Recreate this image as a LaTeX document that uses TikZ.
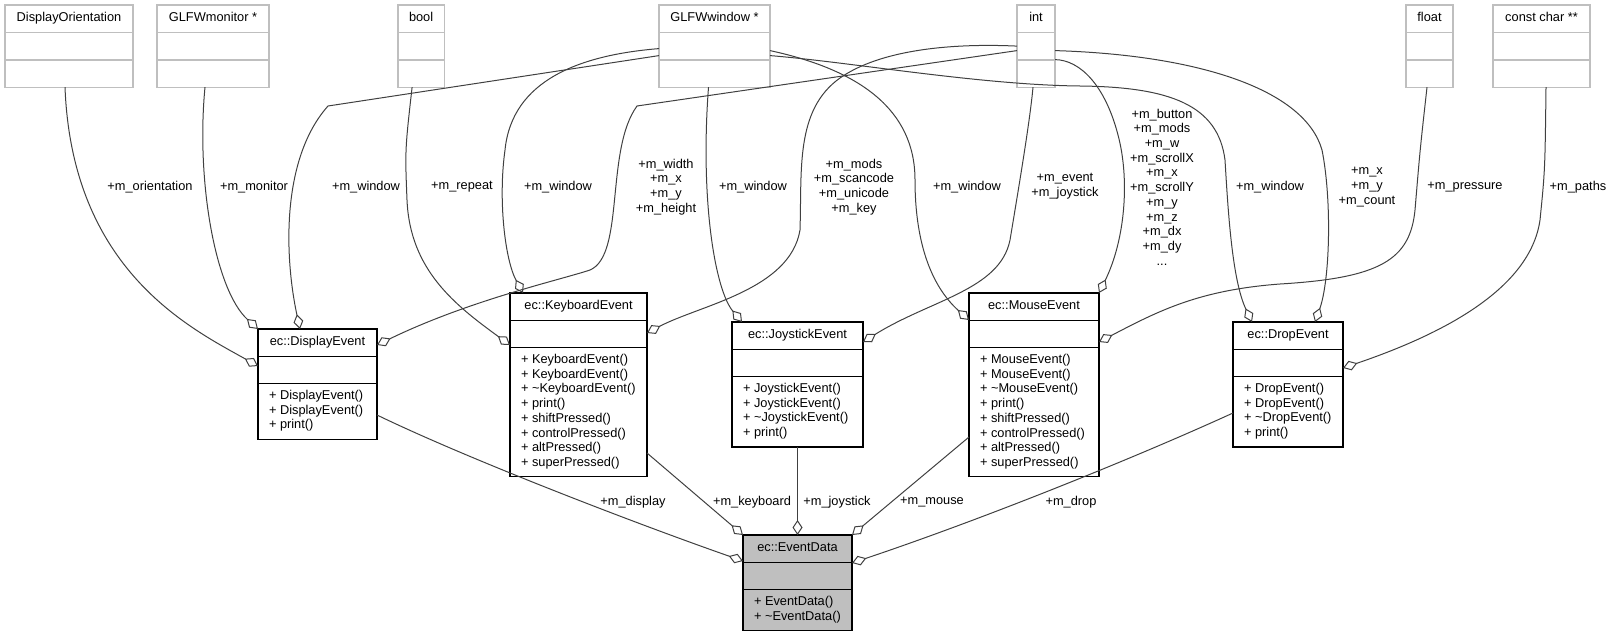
\documentclass[tikz,border=0pt]{standalone}
\usepackage{fontspec}
\setmainfont{Liberation Sans}
\usetikzlibrary{shapes.multipart,arrows.meta}

\definecolor{edgegray}{HTML}{404040}
\definecolor{typegray}{HTML}{BFBFBF}
\definecolor{datagray}{HTML}{BFBFBF}

\newcommand{\rowstrut}{\rule[-4.6pt]{0pt}{15.4pt}}
\newcommand{\opslist}[1]{\begin{tabular}{@{}l@{}}#1\end{tabular}}

\tikzset{
  umlbox/.style={rectangle split, rectangle split parts=3, draw, outer sep=0pt,
    inner xsep=11pt, inner ysep=5.3pt, anchor=north west,
    rectangle split part align={center,left,left}},
  classbox/.style={umlbox, draw=black, line width=1.2pt},
  typebox/.style={umlbox, draw=typegray, line width=1.4pt},
  member/.style={draw=edgegray, line width=1pt, {Diamond[open,length=15pt,width=10pt]}-},
  role/.style={align=center, inner sep=0pt}
}

\begin{document}
\begin{tikzpicture}[x=1pt,y=-1pt,font=\fontsize{12.8pt}{14.7pt}\selectfont]
\useasboundingbox (0,0) rectangle (1616,632);

\node[typebox, minimum width=128pt] (orient) at (5,5) {DisplayOrientation\rowstrut \nodepart{two}\rowstrut \nodepart{three}\rowstrut};
\node[typebox, minimum width=112pt] (monitor) at (157,5) {GLFWmonitor *\rowstrut \nodepart{two}\rowstrut \nodepart{three}\rowstrut};
\node[typebox, minimum width=46pt] (boolt) at (398,5) {bool\rowstrut \nodepart{two}\rowstrut \nodepart{three}\rowstrut};
\node[typebox, minimum width=111pt] (glfw) at (659,5) {GLFWwindow *\rowstrut \nodepart{two}\rowstrut \nodepart{three}\rowstrut};
\node[typebox, minimum width=38pt] (intt) at (1017,5) {int\rowstrut \nodepart{two}\rowstrut \nodepart{three}\rowstrut};
\node[typebox, minimum width=47pt] (floatt) at (1406,5) {float\rowstrut \nodepart{two}\rowstrut \nodepart{three}\rowstrut};
\node[typebox, minimum width=97pt] (cchar) at (1493,5) {const char **\rowstrut \nodepart{two}\rowstrut \nodepart{three}\rowstrut};

\node[classbox, minimum width=119pt] (disp) at (258,329) {ec::DisplayEvent\rowstrut \nodepart{two}\rowstrut
  \nodepart{three}\opslist{+ DisplayEvent()\\ + DisplayEvent()\\ + print()}};
\node[classbox, minimum width=137pt] (kbd) at (510,293) {ec::KeyboardEvent\rowstrut \nodepart{two}\rowstrut
  \nodepart{three}\opslist{+ KeyboardEvent()\\ + KeyboardEvent()\\ + \textasciitilde KeyboardEvent()\\ + print()\\
  + shiftPressed()\\ + controlPressed()\\ + altPressed()\\ + superPressed()}};
\node[classbox, minimum width=131pt] (joy) at (732,322) {ec::JoystickEvent\rowstrut \nodepart{two}\rowstrut
  \nodepart{three}\opslist{+ JoystickEvent()\\ + JoystickEvent()\\ + \textasciitilde JoystickEvent()\\ + print()}};
\node[classbox, minimum width=130pt] (mouse) at (969,293) {ec::MouseEvent\rowstrut \nodepart{two}\rowstrut
  \nodepart{three}\opslist{+ MouseEvent()\\ + MouseEvent()\\ + \textasciitilde MouseEvent()\\ + print()\\
  + shiftPressed()\\ + controlPressed()\\ + altPressed()\\ + superPressed()}};
\node[classbox, minimum width=110pt] (drop) at (1233,322) {ec::DropEvent\rowstrut \nodepart{two}\rowstrut
  \nodepart{three}\opslist{+ DropEvent()\\ + DropEvent()\\ + \textasciitilde DropEvent()\\ + print()}};
\node[classbox, fill=datagray, minimum width=109pt] (ed) at (743,535) {ec::EventData\rowstrut \nodepart{two}\rowstrut
  \nodepart{three}\opslist{+ EventData()\\ + \textasciitilde EventData()}};

\node[role] (lorient) at (150,187) {+m\_orientation};
\node[role] (lmonitor) at (254,187) {+m\_monitor};
\node[role] (ldispwin) at (366,187) {+m\_window};
\node[role] (lrepeat) at (462,187) {+m\_repeat};
\node[role] (lkbdwin) at (558,187) {+m\_window};
\node[role] (lsize) at (666,187) {+m\_width\\+m\_x\\+m\_y\\+m\_height};
\node[role] (ljoywin) at (753,187) {+m\_window};
\node[role] (lkey) at (854,187) {+m\_mods\\+m\_scancode\\+m\_unicode\\+m\_key};
\node[role] (lmousewin) at (967,187) {+m\_window};
\node[role] (levent) at (1065,186) {+m\_event\\+m\_joystick};
\node[role] (lbutton) at (1162,187) {+m\_button\\+m\_mods\\+m\_w\\+m\_scrollX\\+m\_x\\+m\_scrollY\\+m\_y\\+m\_z\\+m\_dx\\+m\_dy\\...};
\node[role] (ldropwin) at (1270,187) {+m\_window};
\node[role] (lcount) at (1367,187) {+m\_x\\+m\_y\\+m\_count};
\node[role] (lpressure) at (1465,187) {+m\_pressure};
\node[role] (lpaths) at (1578,187) {+m\_paths};

\node[role] (ldisplay) at (633,502) {+m\_display};
\node[role] (lkeyboard) at (752,502) {+m\_keyboard};
\node[role] (ljoystick) at (837,502) {+m\_joystick};
\node[role] (lmouse) at (932,502) {+m\_mouse};
\node[role] (ldrop) at (1071,502) {+m\_drop};

\draw[member] ([yshift=-37pt]disp.north west) .. controls (190,328) and (72,270) .. ([xshift=-4pt]orient.south);
\draw[member] (disp.north west) .. controls (215,290) and (196,180) .. ([xshift=-8pt]monitor.south);
\draw[member] ([xshift=42pt]disp.north west) .. controls (285,260) and (280,160) .. (328,106) -- ([yshift=-9.5pt]glfw.west);
\draw[member] ([yshift=-16pt]disp.north east) .. controls (470,300) and (560,280) .. (590,270)
  .. controls (625,255) and (605,150) .. (637,106) -- ([yshift=-4.5pt]intt.west);
\draw[member] ([yshift=-52pt]kbd.north west) .. controls (455,305) and (410,270) .. (407,200)
  .. controls (405,150) .. ([xshift=-9pt]boolt.south);
\draw[member] ([xshift=13pt]kbd.north west) .. controls (505,260) and (498,200) .. (505,150)
  .. controls (512,80) and (580,55) .. ([yshift=-2.5pt]glfw.west);
\draw[member] ([yshift=-40pt]kbd.north east) .. controls (700,305) and (790,290) .. (800,230)
  .. controls (802,170) and (795,110) .. (840,78) .. controls (880,50) and (950,43) .. (intt.west);
\draw[member] ([xshift=10pt]joy.north west) .. controls (715,290) and (700,200) .. ([xshift=-6pt]glfw.south);
\draw[member] ([yshift=-27pt]mouse.north west) .. controls (930,285) and (915,240) .. (915,180)
  .. controls (915,110) and (860,70) .. ([yshift=-4.5pt]glfw.east);
\draw[member] ([yshift=-20pt]joy.north east) .. controls (930,300) and (1000,290) .. (1010,240)
  .. controls (1020,180) and (1030,120) .. ([xshift=-3pt]intt.south);
\draw[member] (mouse.north east) .. controls (1125,240) and (1130,180) .. (1118,135)
  .. controls (1105,85) and (1080,60) .. ([yshift=-13.5pt]intt.east);
\draw[member] ([xshift=19pt]drop.north west) .. controls (1232,280) and (1228,210) .. (1225,160)
  .. controls (1218,105) and (1170,87) .. (1080,86) .. controls (980,85) and (850,62) .. ([yshift=-9.5pt]glfw.east);
\draw[member] ([xshift=-28pt]drop.north east) .. controls (1330,280) and (1332,200) .. (1322,150)
  .. controls (1305,90) and (1200,55) .. ([yshift=-4.5pt]intt.east);
\draw[member] ([yshift=-49pt]mouse.north east) .. controls (1160,310) and (1200,290) .. (1280,284)
  .. controls (1380,278) and (1410,260) .. (1415,210) .. controls (1420,150) .. ([xshift=-2.5pt]floatt.south);
\draw[member] ([yshift=-46pt]drop.north east) .. controls (1440,335) and (1530,290) .. (1540,220)
  .. controls (1545,170) .. ([xshift=4.5pt]cchar.south);

\draw[member] ([yshift=-26pt]ed.north west) .. controls (640,525) and (470,460) .. ([yshift=-86pt]disp.north east);
\draw[member] (ed.north west) -- ([yshift=-160pt]kbd.north east);
\draw[member] (ed.north) -- (joy.south);
\draw[member] (ed.north east) -- ([yshift=-144pt]mouse.north west);
\draw[member] ([yshift=-28pt]ed.north east) .. controls (980,520) and (1130,460) .. ([yshift=-91pt]drop.north west);
\end{tikzpicture}
\end{document}
